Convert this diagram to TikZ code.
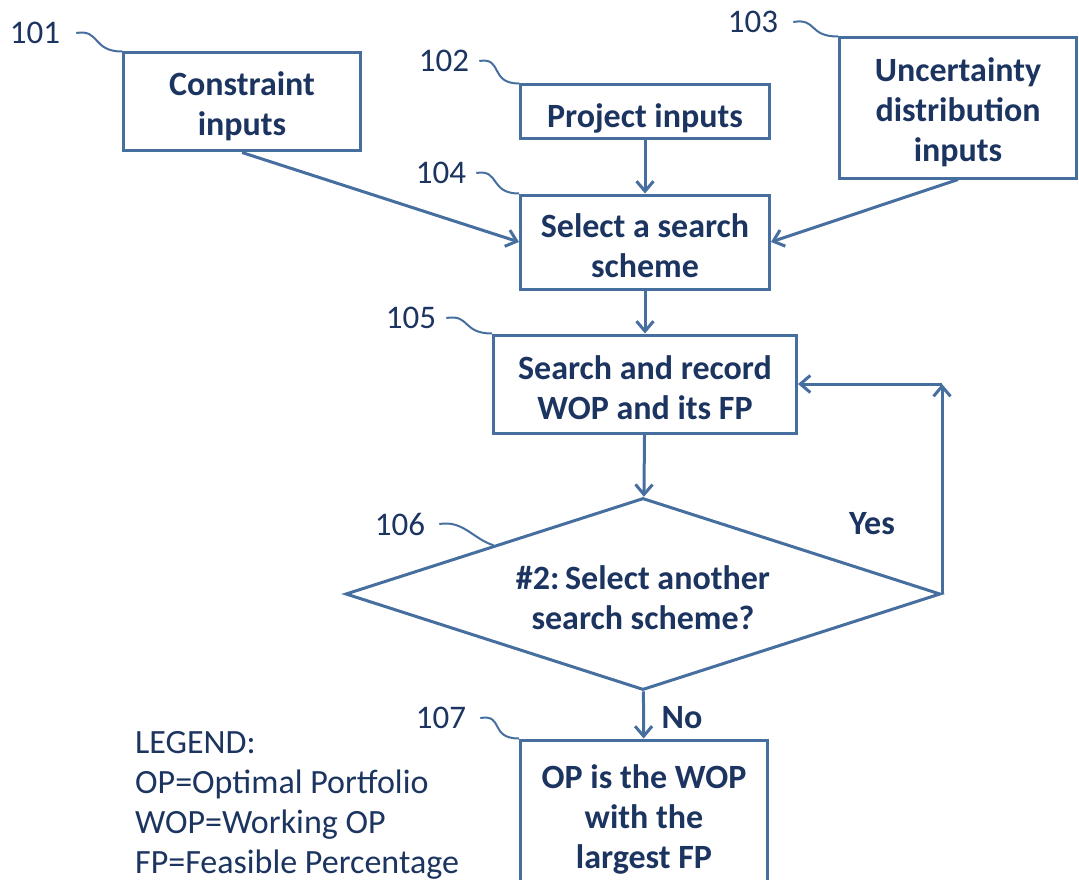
\documentclass[tikz,border=0pt]{standalone}
\usepackage{fontspec}
\setmainfont{Carlito}
\usetikzlibrary{shapes.geometric,arrows.meta,positioning}
\definecolor{flowline}{RGB}{70,110,158}
\definecolor{flowtext}{RGB}{28,52,96}

\begin{document}
\begin{tikzpicture}[x=1pt, y=-1pt,
  every node/.style = {text=flowtext, align=center, font=\fontsize{34}{40}\selectfont\bfseries},
  box/.style = {draw=flowline, line width=3pt, inner sep=0pt},
  words/.style = {label={[yshift=-4pt]center:#1}},
  decision/.style = {box, diamond, aspect=3.1, minimum width=595pt, minimum height=192pt},
  refnum/.style = {font=\fontsize{33}{38}\selectfont, inner sep=0pt},
  flow/.style = {draw=flowline, line width=3pt, -{Straight Barb[length=10pt,width=17pt]}},
  lead/.style = {draw=flowline, line width=2pt}]
  \useasboundingbox (0,0) rectangle (1079,880);
  \clip (0,0) rectangle (1079,880);

  % boxes of the flow
  \node[box, minimum width=237pt, minimum height=98pt, words={Constraint\\inputs}] (constraint) at (242,102) {};
  \node[box, minimum width=249pt, minimum height=54pt, label={[yshift=-6pt]center:Project inputs}] (project) at (645,112) {};
  \node[box, minimum width=237pt, minimum height=140pt, words={Uncertainty\\distribution\\inputs}] (uncert) at (958,108) {};
  \node[box, minimum width=249pt, minimum height=94pt, words={Select a search\\scheme}] (select) at (645,242) {};
  \node[box, minimum width=303pt, minimum height=98pt, words={Search and record\\WOP and its FP}] (record) at (645,384) {};
  \node[decision, words={\#2:\,Select another\\search scheme?}] (another) at (643,594) {};
  \node[box, minimum width=247pt, minimum height=150pt, words={OP is the WOP\\with the\\largest FP}] (largest) at (644,815) {};

  % reference numbers
  \node[refnum] (n101) at (35,33) {101};
  \node[refnum] (n102) at (444,61) {102};
  \node[refnum] (n103) at (753,22) {103};
  \node[refnum] (n104) at (441,173) {104};
  \node[refnum] (n105) at (411,318) {105};
  \node[refnum] (n106) at (400,524) {106};
  \node[refnum] (n107) at (441,718) {107};

  \draw[lead] ([xshift=16pt]n101.east) .. controls +(24,-4) and +(-30,0) .. (constraint.north west);
  \draw[lead] ([xshift=10pt]n102.east) .. controls +(24,-4) and +(-30,0) .. (project.north west);
  \draw[lead] ([xshift=15pt]n103.east) .. controls +(24,-4) and +(-30,0) .. (uncert.north west);
  \draw[lead] ([xshift=10pt]n104.east) .. controls +(24,-4) and +(-30,0) .. (select.north west);
  \draw[lead] ([xshift=10pt]n105.east) .. controls +(24,-4) and +(-30,0) .. (record.north west);
  \draw[lead] ([xshift=14pt]n106.east) .. controls +(24,-4) and +(-20,-6) .. (another.north west);
  \draw[lead] ([xshift=14pt]n107.east) .. controls +(24,-4) and +(-30,0) .. (largest.north west);

  % connectors
  \draw[flow] (constraint.south) -- (select.west);
  \draw[flow] (uncert.south) -- (select.east);
  \draw[flow] (project) -- (select);
  \draw[flow] (select) -- (record);
  \draw[flow] (record) -- (another);
  \draw[flow] (another) -- (largest);
  \coordinate (loop) at (another.east |- record.east);
  \draw[flow] (another.east) -- (loop);
  \draw[flow] (loop) -- (record.east);
  \node (yes) at (872,524) {Yes};
  \node (no) at (682,718) {No};

  \node[anchor=north west, align=left, inner sep=0pt, font=\fontsize{34}{40}\selectfont] (legend) at (135,731)
    {LEGEND:\\OP=Optimal Portfolio\\WOP=Working OP\\FP=Feasible Percentage};
\end{tikzpicture}
\end{document}
